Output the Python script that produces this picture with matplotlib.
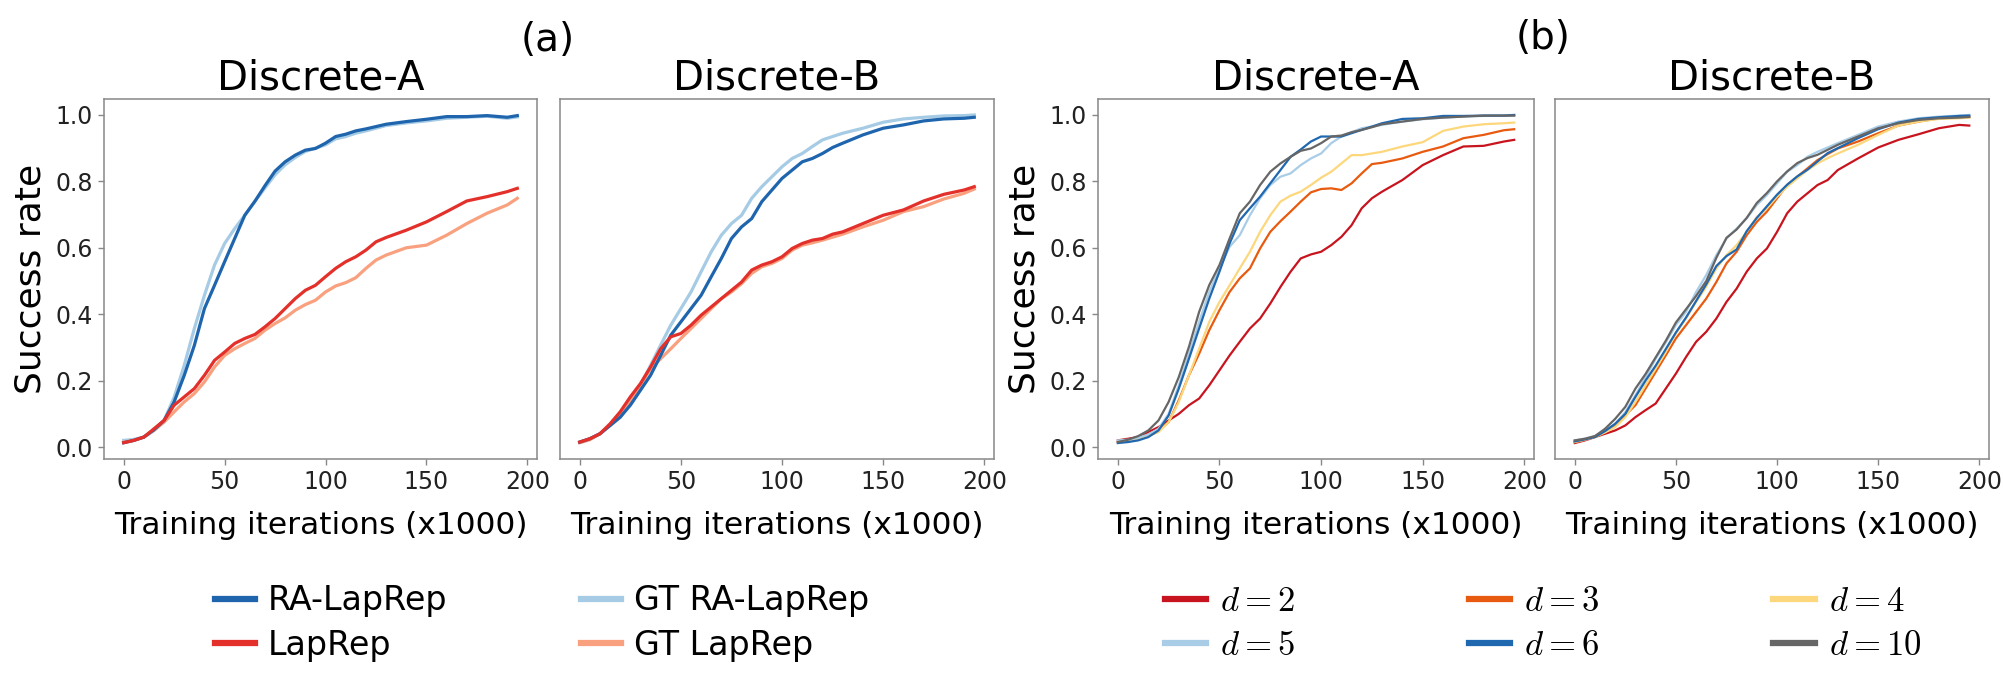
import numpy as np
import matplotlib
matplotlib.use('Agg')
from matplotlib import pyplot as plt

# training iterations (x1000) at which curves were read
iters = [0, 5, 10, 15, 20, 25, 30, 35, 40, 45, 50, 55, 60, 65, 70, 75, 80, 85, 90, 95,
         100, 105, 110, 115, 120, 125, 130, 140, 150, 160, 170, 180, 190, 195]

# (a) Discrete-A
a_ra = [0.013, 0.02, 0.03, 0.052, 0.08, 0.136, 0.216, 0.306, 0.417, 0.487, 0.558, 0.628, 0.698, 0.74,
        0.787, 0.831, 0.859, 0.879, 0.894, 0.899, 0.915, 0.935, 0.942, 0.952, 0.958, 0.965, 0.972,
        0.98, 0.987, 0.995, 0.995, 0.998, 0.993, 0.998]
a_gt_ra = [0.02, 0.023, 0.03, 0.05, 0.08, 0.15, 0.246, 0.357, 0.457, 0.548, 0.613, 0.658, 0.698, 0.74,
           0.78, 0.82, 0.85, 0.872, 0.89, 0.9, 0.91, 0.928, 0.935, 0.945, 0.952, 0.96, 0.968,
           0.976, 0.982, 0.99, 0.993, 0.996, 0.99, 0.994]
a_lap = [0.013, 0.02, 0.03, 0.055, 0.08, 0.126, 0.151, 0.176, 0.216, 0.261, 0.286, 0.312, 0.327, 0.339,
         0.362, 0.387, 0.417, 0.447, 0.472, 0.487, 0.513, 0.538, 0.558, 0.573, 0.593, 0.618, 0.631,
         0.653, 0.678, 0.709, 0.741, 0.754, 0.769, 0.779]
a_gt_lap = [0.015, 0.02, 0.03, 0.05, 0.075, 0.106, 0.136, 0.161, 0.196, 0.241, 0.276, 0.296, 0.312, 0.327,
            0.352, 0.372, 0.389, 0.412, 0.429, 0.442, 0.467, 0.485, 0.495, 0.51, 0.538, 0.563, 0.578,
            0.6, 0.608, 0.638, 0.673, 0.704, 0.729, 0.749]

# (a) Discrete-B
b_ra = [0.015, 0.025, 0.04, 0.065, 0.09, 0.126, 0.171, 0.216, 0.276, 0.337, 0.377, 0.417, 0.457, 0.513,
        0.568, 0.628, 0.663, 0.688, 0.739, 0.774, 0.809, 0.834, 0.859, 0.869, 0.884, 0.902, 0.915,
        0.94, 0.96, 0.97, 0.982, 0.988, 0.99, 0.993]
b_gt_ra = [0.015, 0.025, 0.04, 0.065, 0.09, 0.131, 0.186, 0.246, 0.307, 0.367, 0.417, 0.467, 0.528, 0.588,
           0.638, 0.673, 0.698, 0.749, 0.784, 0.814, 0.844, 0.869, 0.884, 0.905, 0.925, 0.935, 0.945,
           0.96, 0.978, 0.988, 0.993, 0.997, 0.998, 1.0]
b_lap = [0.015, 0.025, 0.04, 0.07, 0.106, 0.151, 0.191, 0.241, 0.296, 0.332, 0.342, 0.367, 0.397, 0.422,
         0.447, 0.472, 0.497, 0.533, 0.548, 0.558, 0.573, 0.598, 0.613, 0.623, 0.628, 0.641, 0.648,
         0.673, 0.698, 0.714, 0.741, 0.761, 0.774, 0.784]
b_gt_lap = [0.013, 0.022, 0.04, 0.065, 0.09, 0.136, 0.186, 0.236, 0.266, 0.296, 0.327, 0.357, 0.387, 0.417,
            0.447, 0.467, 0.492, 0.523, 0.543, 0.553, 0.568, 0.593, 0.608, 0.615, 0.623, 0.632, 0.641,
            0.663, 0.683, 0.709, 0.724, 0.747, 0.764, 0.777]

# (b) Discrete-A, by dimension d
dims = [2, 3, 4, 5, 6, 10]
dA = {
    2: [0.02, 0.025, 0.03, 0.045, 0.06, 0.08, 0.1, 0.126, 0.146, 0.186, 0.231, 0.276, 0.317, 0.357,
        0.387, 0.432, 0.482, 0.528, 0.568, 0.58, 0.588, 0.608, 0.633, 0.668, 0.719, 0.749, 0.769,
        0.804, 0.849, 0.879, 0.905, 0.907, 0.92, 0.925],
    3: [0.015, 0.02, 0.026, 0.035, 0.05, 0.075, 0.141, 0.216, 0.281, 0.352, 0.412, 0.467, 0.508, 0.538,
        0.598, 0.648, 0.68, 0.709, 0.739, 0.767, 0.777, 0.779, 0.774, 0.794, 0.824, 0.852, 0.856,
        0.869, 0.889, 0.905, 0.93, 0.94, 0.954, 0.957],
    4: [0.015, 0.018, 0.025, 0.033, 0.045, 0.075, 0.136, 0.216, 0.296, 0.377, 0.437, 0.487, 0.538, 0.588,
        0.648, 0.698, 0.739, 0.757, 0.769, 0.789, 0.811, 0.829, 0.854, 0.879, 0.879, 0.884, 0.889,
        0.905, 0.918, 0.952, 0.965, 0.972, 0.975, 0.977],
    5: [0.02, 0.022, 0.028, 0.038, 0.055, 0.1, 0.186, 0.281, 0.377, 0.467, 0.538, 0.603, 0.638, 0.698,
        0.749, 0.789, 0.814, 0.824, 0.849, 0.869, 0.884, 0.915, 0.935, 0.948, 0.96, 0.965, 0.97,
        0.98, 0.987, 0.992, 0.995, 0.997, 0.998, 0.998],
    6: [0.012, 0.015, 0.02, 0.03, 0.05, 0.095, 0.176, 0.266, 0.357, 0.447, 0.528, 0.613, 0.683, 0.719,
        0.754, 0.794, 0.834, 0.874, 0.896, 0.92, 0.935, 0.935, 0.935, 0.945, 0.955, 0.965, 0.975,
        0.988, 0.99, 0.997, 0.997, 0.998, 0.998, 1.0],
    10: [0.015, 0.022, 0.033, 0.05, 0.08, 0.136, 0.211, 0.302, 0.407, 0.488, 0.548, 0.628, 0.704, 0.739,
         0.789, 0.829, 0.854, 0.874, 0.892, 0.899, 0.915, 0.935, 0.938, 0.948, 0.955, 0.963, 0.972,
         0.98, 0.988, 0.992, 0.995, 0.998, 0.998, 0.998],
}
# (b) Discrete-B, by dimension d
dB = {
    2: [0.012, 0.02, 0.03, 0.04, 0.05, 0.065, 0.09, 0.111, 0.131, 0.176, 0.221, 0.271, 0.317, 0.347,
        0.387, 0.437, 0.477, 0.528, 0.568, 0.598, 0.648, 0.704, 0.739, 0.764, 0.789, 0.804, 0.834,
        0.869, 0.902, 0.925, 0.942, 0.96, 0.97, 0.968],
    3: [0.015, 0.022, 0.032, 0.047, 0.065, 0.096, 0.126, 0.176, 0.226, 0.276, 0.327, 0.367, 0.407, 0.447,
        0.497, 0.553, 0.588, 0.638, 0.678, 0.709, 0.749, 0.789, 0.814, 0.839, 0.864, 0.882, 0.899,
        0.92, 0.945, 0.968, 0.98, 0.99, 0.993, 0.994],
    4: [0.015, 0.022, 0.03, 0.044, 0.06, 0.09, 0.136, 0.186, 0.236, 0.286, 0.342, 0.387, 0.437, 0.483,
        0.538, 0.578, 0.608, 0.648, 0.693, 0.719, 0.754, 0.784, 0.809, 0.834, 0.854, 0.87, 0.884,
        0.91, 0.94, 0.968, 0.98, 0.988, 0.99, 0.992],
    5: [0.02, 0.025, 0.033, 0.05, 0.07, 0.105, 0.156, 0.21, 0.266, 0.315, 0.367, 0.407, 0.467, 0.518,
        0.578, 0.628, 0.658, 0.689, 0.729, 0.759, 0.794, 0.829, 0.849, 0.874, 0.889, 0.902, 0.915,
        0.94, 0.965, 0.98, 0.99, 0.995, 0.998, 1.0],
    6: [0.017, 0.023, 0.03, 0.048, 0.07, 0.1, 0.151, 0.2, 0.245, 0.295, 0.345, 0.39, 0.44, 0.49,
        0.545, 0.575, 0.595, 0.65, 0.69, 0.725, 0.76, 0.79, 0.815, 0.835, 0.86, 0.885, 0.9,
        0.93, 0.957, 0.977, 0.988, 0.993, 0.997, 0.998],
    10: [0.02, 0.025, 0.033, 0.055, 0.085, 0.121, 0.176, 0.22, 0.27, 0.32, 0.375, 0.415, 0.455, 0.5,
         0.57, 0.63, 0.655, 0.69, 0.735, 0.765, 0.8, 0.83, 0.855, 0.87, 0.88, 0.895, 0.91,
         0.935, 0.96, 0.975, 0.985, 0.99, 0.992, 0.994],
}

c_ra, c_gt_ra, c_lap, c_gt_lap = '#1f65ad', '#a6cbe5', '#e3302a', '#f9a07f'
d_colors = {2: '#c8141e', 3: '#e85a0f', 4: '#fdd77c', 5: '#a9cde6', 6: '#1f68b0', 10: '#666666'}

plt.rcParams['font.family'] = 'DejaVu Sans'
plt.rcParams['mathtext.fontset'] = 'cm'

fig = plt.figure(figsize=(20.04, 6.73), dpi=100)
W, H = 2004., 673.
bot, hgt = 1 - 459/H, 360/H
ax1 = fig.add_axes([104/W, bot, 433/W, hgt])
ax2 = fig.add_axes([560/W, bot, 434/W, hgt])
ax3 = fig.add_axes([1098/W, bot, 436/W, hgt])
ax4 = fig.add_axes([1555/W, bot, 434/W, hgt])

lw_a = 2.3
for ax, (ra, gtra, lap, gtlap) in zip([ax1, ax2], [(a_ra, a_gt_ra, a_lap, a_gt_lap),
                                                  (b_ra, b_gt_ra, b_lap, b_gt_lap)]):
    h3, = ax.plot(iters, gtra, color=c_gt_ra, lw=lw_a, label='GT RA-LapRep')
    h4, = ax.plot(iters, gtlap, color=c_gt_lap, lw=lw_a, label='GT LapRep')
    h1, = ax.plot(iters, ra, color=c_ra, lw=lw_a, label='RA-LapRep')
    h2, = ax.plot(iters, lap, color=c_lap, lw=lw_a, label='LapRep')
    if ax is ax1:
        handles_a = [h1, h2, h3, h4]

for ax, data in zip([ax3, ax4], [dA, dB]):
    hs = {}
    for d in dims:
        hs[d], = ax.plot(iters, data[d], color=d_colors[d], lw=1.6, label='$d=%i$' % d)
    if ax is ax3:
        handles_b = [hs[2], hs[5], hs[3], hs[6], hs[4], hs[10]]

titles = ['Discrete-A', 'Discrete-B', 'Discrete-A', 'Discrete-B']
for i, ax in enumerate([ax1, ax2, ax3, ax4]):
    ax.set_xlim(-9.75, 204.75)
    ax.set_ylim(-0.036, 1.048)
    ax.set_xticks([0, 50, 100, 150, 200])
    ax.set_yticks([0.0, 0.2, 0.4, 0.6, 0.8, 1.0])
    ax.set_yticklabels(['0.0', '0.2', '0.4', '0.6', '0.8', '1.0'])
    for s in ax.spines.values():
        s.set_color('#888888')
        s.set_linewidth(1.1)
    ax.tick_params(colors='#888888', labelcolor='#222222', labelsize=17, length=4, width=1, pad=4)
    ax.set_title(titles[i], fontsize=29, pad=6)
    ax.set_xlabel('Training iterations (x1000)', fontsize=22.5, labelpad=12)
    if i in (1, 3):
        ax.tick_params(axis='y', left=False, labelleft=False)
    else:
        ax.set_ylabel('Success rate', fontsize=26, labelpad=6)

fig.text(548/W, 1 - 40/H, '(a)', fontsize=28, ha='center', va='center')
fig.text(1543/W, 1 - 38/H, '(b)', fontsize=28, ha='center', va='center')

leg_a = fig.legend(handles=handles_a, loc='center', bbox_to_anchor=(542/W, 1 - 623/H), ncol=2,
                   frameon=False, fontsize=24, handlelength=1.2, handletextpad=0.4,
                   columnspacing=4.0, labelspacing=0.35)
leg_b = fig.legend(handles=handles_b, loc='center', bbox_to_anchor=(1543/W, 1 - 623/H), ncol=3,
                   frameon=False, fontsize=25, handlelength=1.2, handletextpad=0.4,
                   columnspacing=5.0, labelspacing=0.3)
for leg in (leg_a, leg_b):
    for l in leg.legend_handles:
        l.set_linewidth(4.5)

fig.savefig('out.png', dpi=100)
